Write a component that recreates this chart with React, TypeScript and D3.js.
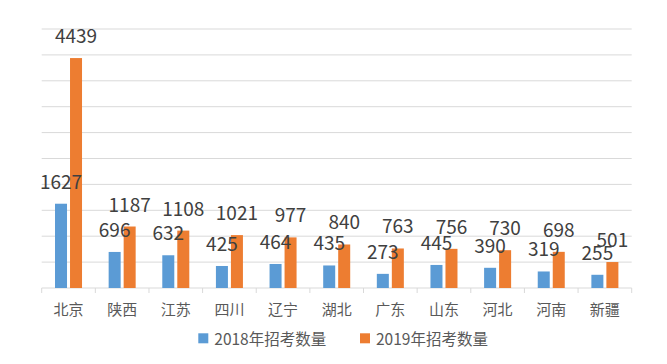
import React from 'react';
import * as d3 from 'd3';

const provinces = ['北京', '陕西', '江苏', '四川', '辽宁', '湖北', '广东', '山东', '河北', '河南', '新疆'];
const v2018 = [1627, 696, 632, 425, 464, 435, 273, 445, 390, 319, 255];
const v2019 = [4439, 1187, 1108, 1021, 977, 840, 763, 756, 730, 698, 501];
const seriesNames = ['2018年招考数量', '2019年招考数量'];
const colors = ['#5b9bd5', '#ed7d31'];
const yTicks = d3.range(0, 5001, 500);

const width = 667;
const height = 364;
const margin = { top: 29, right: 35.3, bottom: 76, left: 41.7 };
const font = '"Noto Sans CJK SC", "Noto Sans", sans-serif';

export default function App() {
  const x = d3
    .scaleBand()
    .domain(provinces)
    .range([margin.left, width - margin.right])
    .padding(0);

  const inner = d3
    .scaleBand()
    .domain(['0', '1'])
    .range([0, x.bandwidth()])
    .paddingInner(0.2)
    .paddingOuter(0.887);

  const y = d3
    .scaleLinear()
    .domain([0, 5000])
    .range([height - margin.bottom, margin.top]);

  const series = [v2018, v2019];
  const base = y(0);

  return (
    <svg
      width={width}
      height={height}
      style={{ position: 'absolute', left: 0, top: 0, background: '#fff' }}
      fontFamily={font}
    >
      {/* gridlines */}
      {yTicks.slice(1).map(t => (
        <line
          key={t}
          x1={margin.left}
          x2={width - margin.right}
          y1={y(t)}
          y2={y(t)}
          stroke="#d9d9d9"
          strokeWidth={1}
        />
      ))}
      {/* baseline + tick marks */}
      <line x1={margin.left} x2={width - margin.right} y1={base} y2={base} stroke="#d9d9d9" strokeWidth={1} />
      {provinces.concat(['end']).map((p, i) => {
        const tx = i < provinces.length ? x(p) : width - margin.right;
        return <line key={p} x1={tx} x2={tx} y1={base} y2={base + 5} stroke="#d9d9d9" strokeWidth={1} />;
      })}

      {/* bars */}
      {series.map((vals, s) =>
        vals.map((v, i) => (
          <rect
            key={s + '-' + i}
            x={x(provinces[i]) + inner(String(s))}
            y={y(v)}
            width={inner.bandwidth()}
            height={base - y(v)}
            fill={colors[s]}
          />
        ))
      )}

      {/* data labels (overlaps as in the source chart) */}
      {series.map((vals, s) =>
        vals.map((v, i) => (
          <text
            key={'l' + s + '-' + i}
            x={x(provinces[i]) + inner(String(s)) + inner.bandwidth() / 2}
            y={y(v) - 15}
            textAnchor="middle"
            fontSize={19}
            fill="#404040"
          >
            {v}
          </text>
        ))
      )}

      {/* category labels */}
      {provinces.map(p => (
        <text
          key={'c' + p}
          x={x(p) + x.bandwidth() / 2}
          y={308}
          textAnchor="middle"
          dominantBaseline="central"
          fontSize={15}
          fill="#595959"
        >
          {p}
        </text>
      ))}

      {/* legend */}
      {seriesNames.map((name, s) => {
        const lx = s === 0 ? 198.3 : 360;
        return (
          <g key={name} transform={`translate(${lx},333.3)`}>
            <rect width={10} height={10} fill={colors[s]} />
            <text x={16} y={5} dominantBaseline="central" fontSize={15.5} fill="#595959">
              {name}
            </text>
          </g>
        );
      })}
    </svg>
  );
}
